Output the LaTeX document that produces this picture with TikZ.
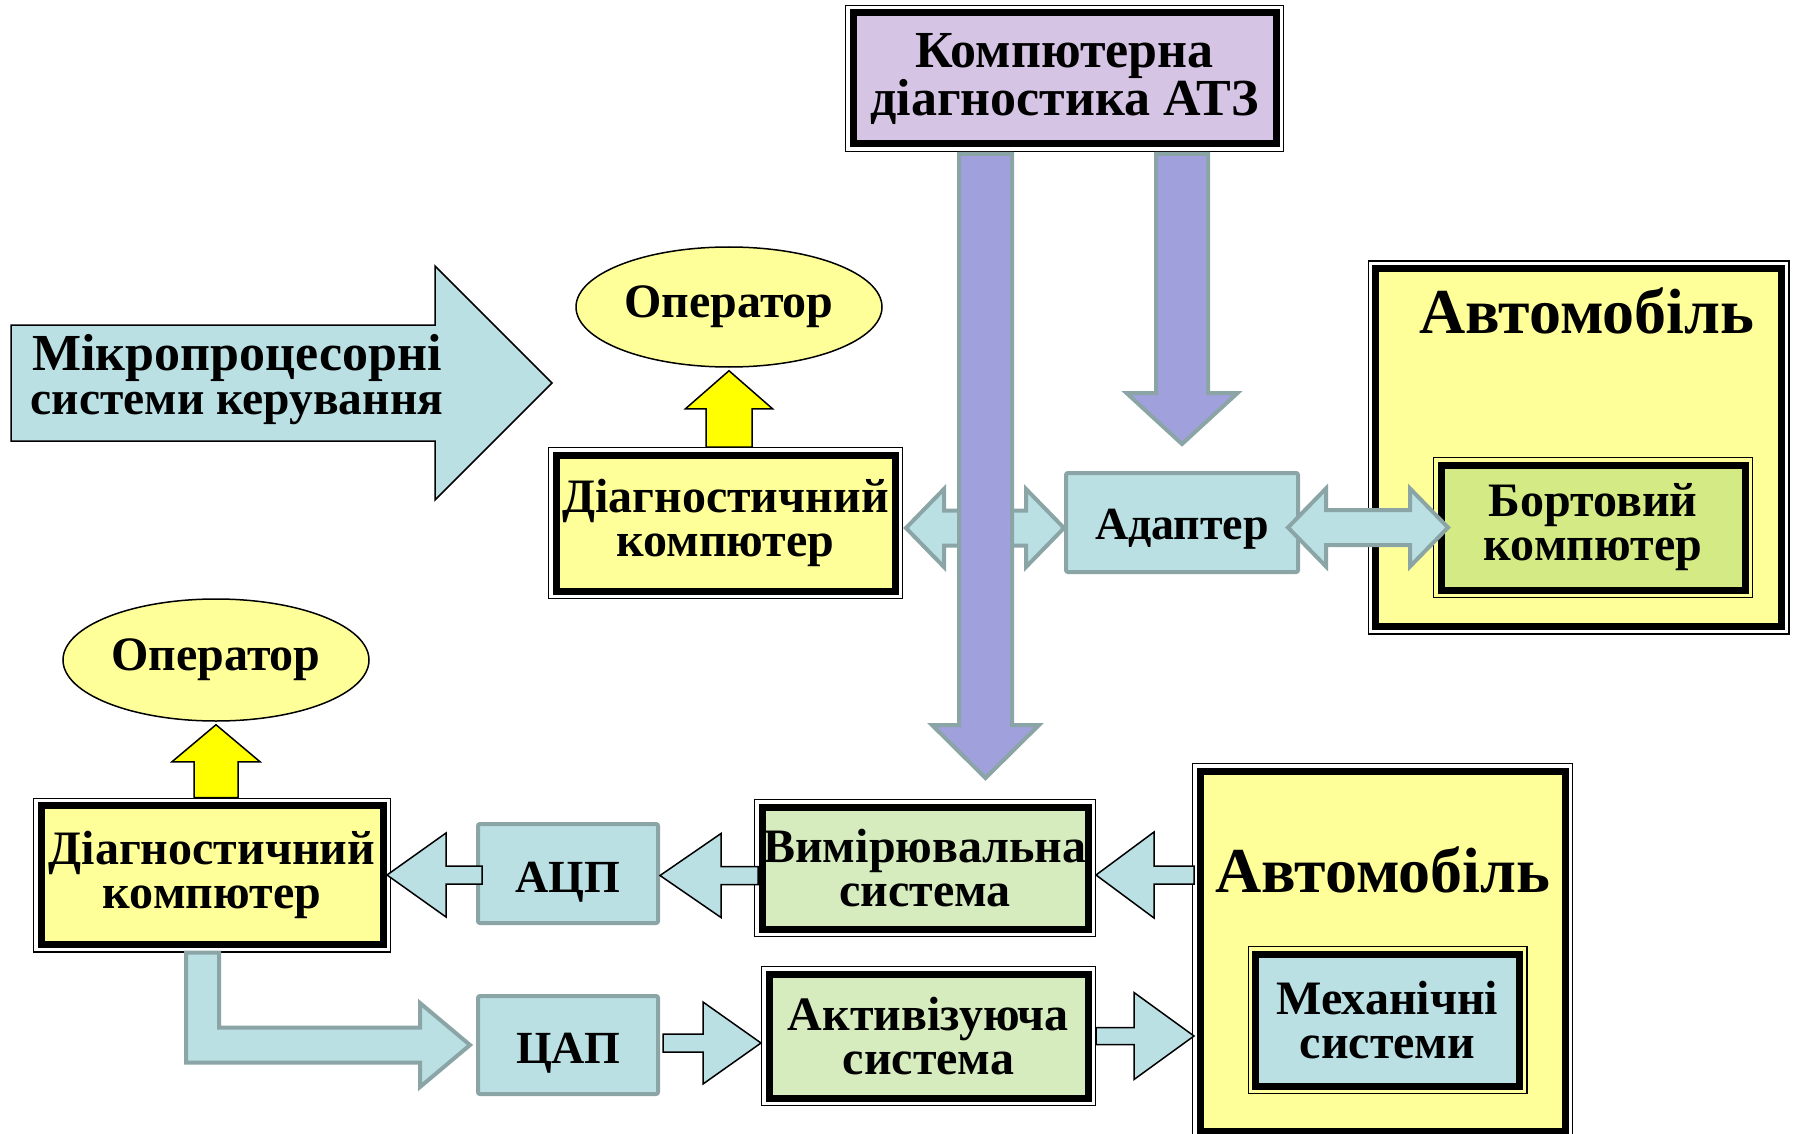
\documentclass[tikz,border=0pt]{standalone}
\usepackage{fontspec}
\setmainfont{Liberation Serif}
\usetikzlibrary{calc,shapes.geometric}

\definecolor{lblue}{RGB}{187,224,228}
\definecolor{edgegray}{RGB}{139,165,167}
\definecolor{lav}{RGB}{214,196,228}
\definecolor{purp}{RGB}{160,160,220}
\definecolor{lyel}{RGB}{255,255,153}
\definecolor{byel}{RGB}{255,255,0}
\definecolor{bgreen}{RGB}{212,234,132}
\definecolor{pgreen}{RGB}{214,235,190}

\tikzset{
  fnt/.style 2 args={font=\fontsize{#1}{#2}\selectfont\bfseries},
  dblin/.style={draw=black, line width=7pt, inner sep=0pt},
  dblout/.style={draw=black, line width=1.3pt, inner sep=0pt, align=center, text=black},
  smallbox/.style={draw=edgegray, line width=4pt, fill=lblue, rounded corners=2pt,
    inner sep=0pt, align=center, fnt={46}{44}, text depth=0pt},
  oper/.style={ellipse, draw=black, line width=1.5pt, fill=lyel, inner sep=0pt, fnt={48}{44}},
  grayarrow/.style={draw=edgegray, line width=4pt, fill=lblue, line join=miter},
  blackarrow/.style={draw=black, line width=1.5pt, fill=lblue, line join=miter},
  purplearrow/.style={draw=edgegray, line width=4pt, fill=purp, line join=miter},
  yelarrow/.style={draw=black, line width=1.5pt, fill=byel, line join=miter},
}

% box with a thin outer frame and a thick inner frame
% #1 name, #2 centre, #3 width, #4 height, #5 fill, #6 font size, #7 line skip, #8 text
\newcommand\dblbox[8]{%
  \node[dblin, fill=#5, minimum width=#3-16, minimum height=#4-16] at (#2) {};
  \node[dblout, fnt={#6}{#7}, minimum width=#3-1.3, minimum height=#4-1.3] (#1) at (#2) {#8};
}
% horizontal block arrow: style, tail, tip, direction (1 right, -1 left), shaft half, head half, head length
\newcommand\harrow[7]{%
  \draw[#1] let \p1=(#2), \p2=(#3), \n1={#4*#7} in
   (\x1,{\y2+#5pt}) -- ({\x2-\n1},{\y2+#5pt}) -- ({\x2-\n1},{\y2+#6pt}) -- (\x2,\y2)
   -- ({\x2-\n1},{\y2-#6pt}) -- ({\x2-\n1},{\y2-#5pt}) -- (\x1,{\y2-#5pt}) -- cycle;}
% vertical block arrow: style, tail, tip, direction (1 up, -1 down), shaft half, head half, head length
\newcommand\varrow[7]{%
  \draw[#1] let \p1=(#2), \p2=(#3), \n1={#4*#7} in
   ({\x2+#5pt},\y1) -- ({\x2+#5pt},{\y2-\n1}) -- ({\x2+#6pt},{\y2-\n1}) -- (\x2,\y2)
   -- ({\x2-#6pt},{\y2-\n1}) -- ({\x2-#5pt},{\y2-\n1}) -- ({\x2-#5pt},\y1) -- cycle;}
% double-headed horizontal block arrow: style, left tip, right tip, shaft half, head half, head length
\newcommand\dharrow[6]{%
  \draw[#1] let \p1=(#2), \p2=(#3) in
   (\x1,\y1) -- ({\x1+#6pt},{\y1+#5pt}) -- ({\x1+#6pt},{\y1+#4pt}) -- ({\x2-#6pt},{\y1+#4pt})
   -- ({\x2-#6pt},{\y1+#5pt}) -- (\x2,\y1) -- ({\x2-#6pt},{\y1-#5pt}) -- ({\x2-#6pt},{\y1-#4pt})
   -- ({\x1+#6pt},{\y1-#4pt}) -- ({\x1+#6pt},{\y1-#5pt}) -- cycle;}

\begin{document}
\begin{tikzpicture}[x=1pt,y=-1pt]
\useasboundingbox[fill=white] (0,0) rectangle (1800,1134);

% big arrow on the left
\draw[blackarrow] (11,325) -- (435,325) -- (435,266) -- (552,383) -- (435,500)
  -- (435,441) -- (11,441) -- cycle;
\node[fnt={52}{44}, align=center] (mps) at (237,380)
  {Мікропроцесорні\\\fontsize{47.5}{44}\selectfont системи керування};

% upper part
\dblbox{title}{1064.5,78.5}{439}{147}{lav}{52}{48}{Компютерна\\діагностика АТЗ}
\node[oper, minimum width=306, minimum height=120] (opT) at (729,307) {Оператор};
\dblbox{diagT}{725.5,523}{355}{152}{lyel}{48}{44}{Діагностичний\\компютер}
\node[smallbox, minimum width=232, minimum height=99, text height=34pt] (adp) at (1182,522.5) {Адаптер};
\dblbox{autoT}{1578.5,447.5}{422}{374}{lyel}{64}{64}{}
\node[fnt={64}{64}, anchor=base] (autoTlbl) at (1587,333) {Автомобіль};
\dblbox{board}{1593,527.5}{320}{141}{bgreen}{48}{44}{Бортовий\\компютер}

% lower part
\node[oper, minimum width=306, minimum height=122] (opB) at (216,660) {Оператор};
\dblbox{diagB}{212,875}{358}{155}{lyel}{48}{44}{Діагностичний\\компютер}
\node[smallbox, minimum width=180, minimum height=99, text height=37pt] (adc) at (568,873.5) {АЦП};
\dblbox{meas}{925,868}{342}{138}{pgreen}{48}{44}{Вимірювальна\\система}
\dblbox{autoB}{1382.5,951}{381}{376}{lyel}{64}{64}{}
\node[fnt={64}{64}, anchor=base] (autoBlbl) at (1383,892) {Автомобіль};
\dblbox{mech}{1387.5,1020}{280}{148}{lblue}{48}{44}{Механічні\\системи}
\node[smallbox, minimum width=180, minimum height=98, text height=37pt] (dac) at (568,1045) {ЦАП};
\dblbox{act}{928.5,1036}{335}{140}{pgreen}{48}{44}{Активізуюча\\система}

% connectors of the upper part
\dharrow{grayarrow}{[xshift=3pt,yshift=-5pt]diagT.east}{adp.west}{17.5}{39}{38}
\coordinate (pL) at (985.5,778);
\varrow{purplearrow}{[yshift=-2pt]title.south}{pL}{-1}{26.5}{53.5}{53}
\varrow{purplearrow}{[yshift=-2pt]title.south}{[yshift=27pt]adp.north}{-1}{26}{55.5}{51}
\dharrow{grayarrow}{[xshift=-12pt,yshift=-5pt]adp.east}{[xshift=15pt]board.west}{17.5}{39}{38}
\varrow{yelarrow}{diagT.north}{[yshift=-3pt]opT.south}{1}{23}{43.5}{38}

% connectors of the lower part
\varrow{yelarrow}{diagB.north}{[yshift=-3pt]opB.south}{1}{22}{44}{37}
\harrow{blackarrow}{[xshift=6pt]adc.west}{[xshift=-4pt]diagB.east}{-1}{9}{42}{59}
\harrow{blackarrow}{[xshift=4pt]meas.west}{[yshift=-2pt]adc.east}{-1}{9}{42}{61}
\harrow{blackarrow}{[xshift=2pt]autoB.west}{[yshift=-7pt]meas.east}{-1}{9}{43}{58}
\draw[grayarrow] let \p1=(diagB.south), \p2=(dac.west) in
  ({\x1-26pt},\y1) -- ({\x1+7pt},\y1) -- ({\x1+7pt},{\y2+17.5pt}) -- ({\x2-56pt},{\y2+17.5pt})
  -- ({\x2-56pt},{\y2+42pt}) -- ({\x2-6pt},\y2) -- ({\x2-56pt},{\y2-42pt}) -- ({\x2-56pt},{\y2-17.5pt})
  -- ({\x1-26pt},{\y2-17.5pt}) -- cycle;
\harrow{blackarrow}{[xshift=3pt]dac.east}{[yshift=-7pt]act.west}{1}{9}{41}{58}
\coordinate (aIn) at (autoB.west |- act.east);
\harrow{blackarrow}{act.east}{[xshift=2pt]aIn}{1}{8.5}{43.5}{60}
\end{tikzpicture}
\end{document}
